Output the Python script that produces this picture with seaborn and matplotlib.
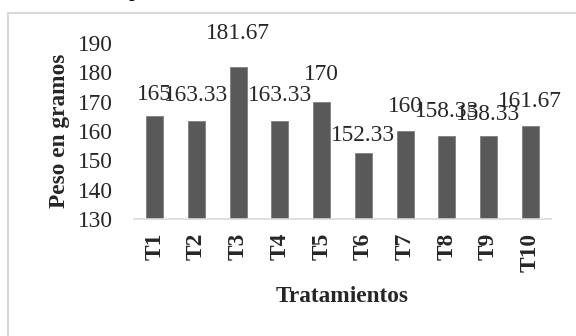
import matplotlib
matplotlib.use("Agg")
import matplotlib.pyplot as plt
import seaborn as sns
import pandas as pd
from matplotlib.patches import Rectangle

categories = ["T1", "T2", "T3", "T4", "T5", "T6", "T7", "T8", "T9", "T10"]
values = [165, 163.33, 181.67, 163.33, 170, 152.33, 160, 158.33, 158.33, 161.67]
value_labels = ["165", "163.33", "181.67", "163.33", "170", "152.33", "160", "158.33", "158.33", "161.67"]
y_ticks = [130, 140, 150, 160, 170, 180, 190]
# vertical gap (pixels) between bar top and label centre, as placed in the reference
label_gap_px = [22, 26, 34, 26, 27, 18, 24, 24, 21, 25]

sns.set_theme(style="white")
plt.rcParams["font.family"] = ["Liberation Serif", "DejaVu Serif"]

df = pd.DataFrame({"Tratamiento": categories, "Peso": values})

W, H = 576, 336
fig = plt.figure(figsize=(W / 100, H / 100), dpi=100)
fig.patch.set_facecolor("white")

# outer frame (only top/left visible in crop)
frame = Rectangle((8 / W, -0.5), 2.0, (H - 13) / H + 0.5, transform=fig.transFigure,
                  fill=False, edgecolor="#d9d9d9", linewidth=1.5)
fig.patches.append(frame)
fig.text(134 / W, 1 + 4 / H, "p", fontsize=16.8, ha="center", va="baseline", color="black")

ax = fig.add_axes([134 / W, 1 - 219 / H, (551 - 134) / W, (219 - 43) / H])
sns.barplot(data=df, x="Tratamiento", y="Peso", color="#595959", width=0.41,
            edgecolor="#7f7f7f", linewidth=0.6, saturation=1, ax=ax)

ax.set_ylim(130, 190)
ax.set_yticks(y_ticks)
ax.set_yticklabels([str(t) for t in y_ticks], fontsize=16.8)
ax.tick_params(axis="y", length=0, pad=15)
ax.tick_params(axis="x", length=0, pad=10)
for lab in ax.get_xticklabels():
    lab.set_rotation(90)
    lab.set_fontweight("bold")
    lab.set_fontsize(16.8)
    lab.set_va("top")

for s in ["left", "right", "top"]:
    ax.spines[s].set_visible(False)
ax.spines["bottom"].set_color("#d9d9d9")
ax.spines["bottom"].set_linewidth(1.2)
ax.set_facecolor("white")

for i, (v, t, g) in enumerate(zip(values, value_labels, label_gap_px)):
    ax.annotate(t, (i, v), xytext=(0, g * 72 / 100), textcoords="offset points",
                ha="center", va="center", fontsize=16.8, clip_on=False)

ax.set_ylabel("Peso en gramos", fontsize=16.8, fontweight="bold", labelpad=6)
ax.set_xlabel("Tratamientos", fontsize=16.8, fontweight="bold", labelpad=10)

fig.savefig("out.png", dpi=100)
